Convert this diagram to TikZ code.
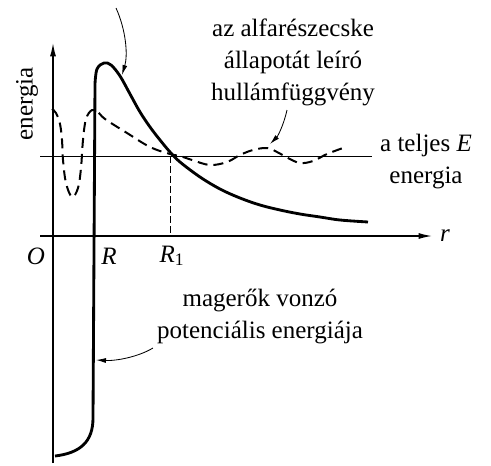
\documentclass[tikz,border=0pt]{standalone}
\usepackage{fontspec}
\setmainfont{Liberation Serif}
\usetikzlibrary{arrows.meta}

\begin{document}
\begin{tikzpicture}[
  x=0.6pt, y=-0.6pt,
  axis/.style={line width=0.8pt, -{Latex[length=8pt,width=3.6pt]}},
  level/.style={line width=0.6pt},
  guide/.style={line width=0.6pt, dash pattern=on 4pt off 2pt},
  pot/.style={line width=1.7pt, line join=round},
  wave/.style={line width=1.2pt, dash pattern=on 6pt off 3.6pt},
  pointer/.style={line width=0.5pt, -{Latex[length=6pt,width=3pt]}},
  txt/.style={font=\fontsize{15}{19.2}\selectfont, align=center, inner sep=0pt},
]
  \useasboundingbox (0,0) rectangle (491,465);

  % axes
  \coordinate (ybot) at (53,463);
  \coordinate (ytop) at (53,43);
  \coordinate (xleft) at (40,236);
  \coordinate (xright) at (432,236);
  \draw[axis] (ybot) -- (ytop);
  \draw[axis] (xleft) -- (xright);
  \node[txt] (rlbl) at (445,236) {\textit{r}};
  \node[txt, rotate=90] (elbl) at (27,104) {energia};
  \node[txt] (olbl) at (36,256) {\textit{O}};
  \node[txt] (rRlbl) at (109,256) {\textit{R}};
  \node[txt] (rR1lbl) at (172,256) {\textit{R}\textsubscript{1}};

  % total energy E
  \coordinate (eleft) at (40,156);
  \coordinate (eright) at (372,156);
  \coordinate (rone) at (170,156);
  \coordinate (ronebase) at (170,236);
  \draw[level] (eleft) -- (eright);
  \draw[guide] (rone) -- (ronebase);
  \node[txt] (Elbl) at (426,162) {a teljes \textit{E}\\energia};

  % potential energy
  \draw[pot] (55,456) .. controls (80,453) and (93,442) .. (93,418) -- (95,84)
    -- plot[smooth, tension=0.6] coordinates {(95,84) (97,69) (104,63) (111,65)
      (120,76) (130,94) (140,112) (150,127) (160,140) (170,152) (180,162)
      (200,177) (220,189) (240,198) (260,205) (280,210) (300,214) (320,217)
      (340,220) (368,222)};

  % wave function
  \draw[wave] plot[smooth, tension=0.6] coordinates {(52,109) (56,113) (60,124)
    (62,140) (63,160) (66,183) (72,197) (78,188) (81,168) (83,140) (86,119)
    (92,110) (98,112) (105,119) (127,133) (150,147) (170,154) (180,156)
    (192,160) (210,165) (227,162) (240,155) (253,150) (267,148) (277,152)
    (288,158) (300,163) (313,161) (327,154) (343,148)};

  % labels with pointers
  \node[txt] (wavelbl) at (293,62) {az alfarészecske\\állapotát leíró\\hullámfüggvény};
  \node[txt] (potlbl) at (260,316) {magerők vonzó\\potenciális energiája};

  \coordinate (toptail) at (116,8);
  \coordinate (peaktip) at (122,75);
  \draw[pointer] (toptail) .. controls (126,30) and (128,55) .. (peaktip);

  \coordinate (wavetail) at (287,110);
  \coordinate (wavetip) at (270,144);
  \draw[pointer] (wavetail) .. controls (284,124) and (278,136) .. (wavetip);

  \coordinate (pottail) at (153,348);
  \coordinate (pottip) at (96,360);
  \draw[pointer] (pottail) .. controls (138,357) and (116,361) .. (pottip);
\end{tikzpicture}
\end{document}
